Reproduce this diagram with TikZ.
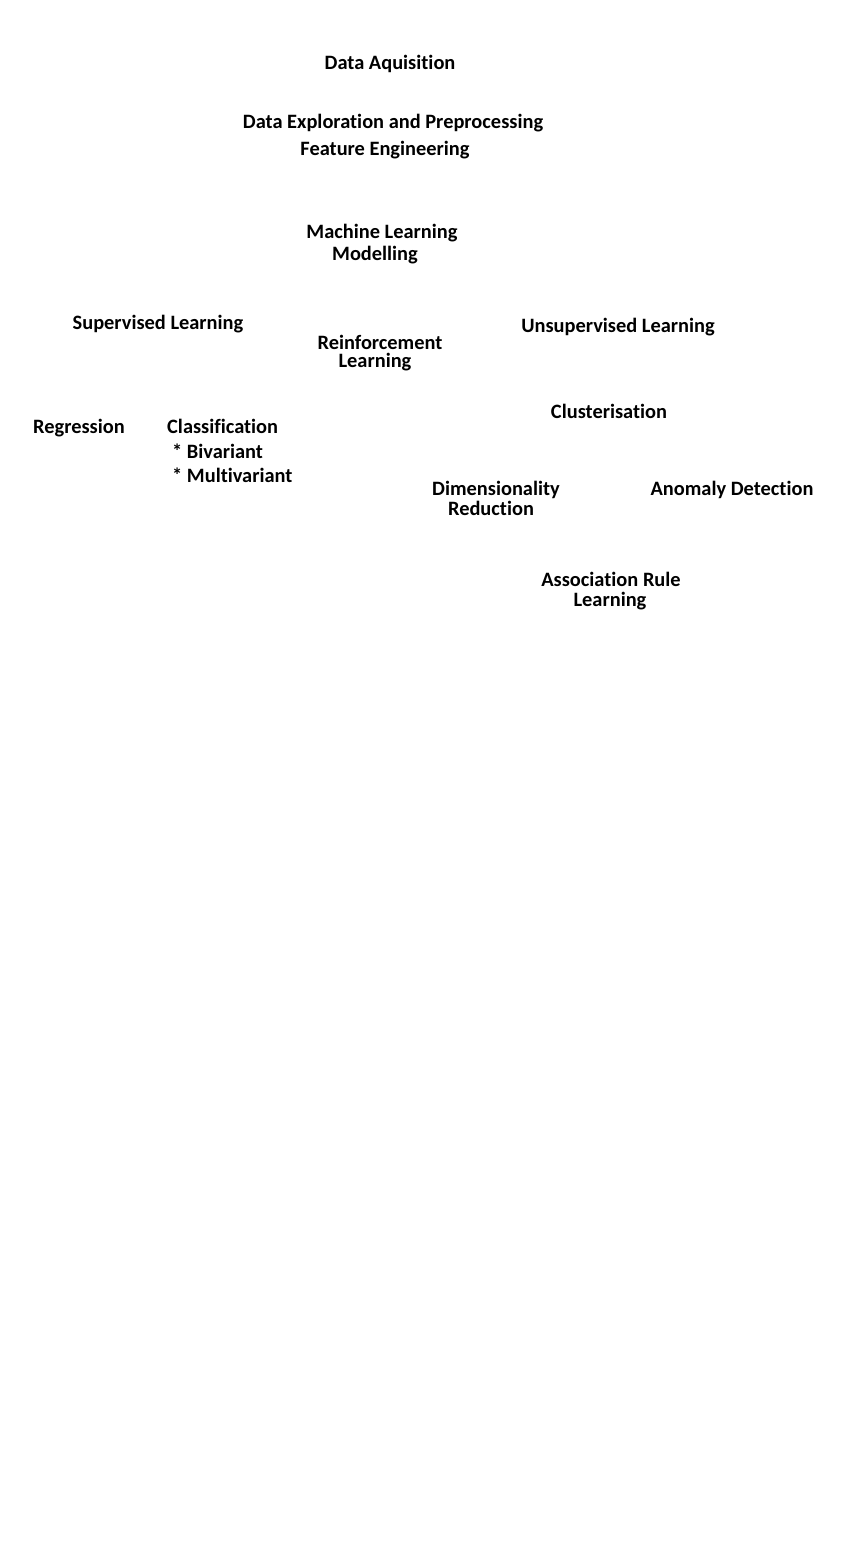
\documentclass[tikz,border=0pt]{standalone}
\usepackage{fontspec}
\setmainfont{Carlito}[Ligatures=NoCommon]
\begin{document}
\begin{tikzpicture}[x=1pt,y=-1pt,
  lbl/.style={inner sep=0pt,anchor=base,font=\fontsize{20.4}{22}\selectfont\bfseries},
  lbll/.style={lbl,anchor=base west}]
\useasboundingbox[fill=white] (0,0) rectangle (855,1559);
\node[lbl] (acq) at (390,69) {Data Aquisition};
\node[lbl] (expl) at (393,128) {Data Exploration and Preprocessing};
\node[lbl] (feat) at (385,155) {Feature Engineering};
\node[lbl] (ml1) at (382,238) {Machine Learning};
\node[lbl] (ml2) at (375,260) {Modelling};
\node[lbl] (sup) at (158,329) {Supervised Learning};
\node[lbl] (rl1) at (380,349) {Reinforcement};
\node[lbl] (rl2) at (375,367) {Learning};
\node[lbl] (uns) at (618,332) {Unsupervised Learning};
\node[lbl] (reg) at (79,433) {Regression};
\node[lbll] (cls) at (167,433) {Classification};
\node[lbll] (biv) at (172,458) {* Bivariant};
\node[lbll] (mul) at (172,482) {* Multivariant};
\node[lbl] (clu) at (609,418) {Clusterisation};
\node[lbl] (dim1) at (496,495) {Dimensionality};
\node[lbl] (dim2) at (491,515) {Reduction};
\node[lbl] (ano) at (732,495) {Anomaly Detection};
\node[lbl] (asr1) at (611,586) {Association Rule};
\node[lbl] (asr2) at (610,606) {Learning};
\end{tikzpicture}
\end{document}
